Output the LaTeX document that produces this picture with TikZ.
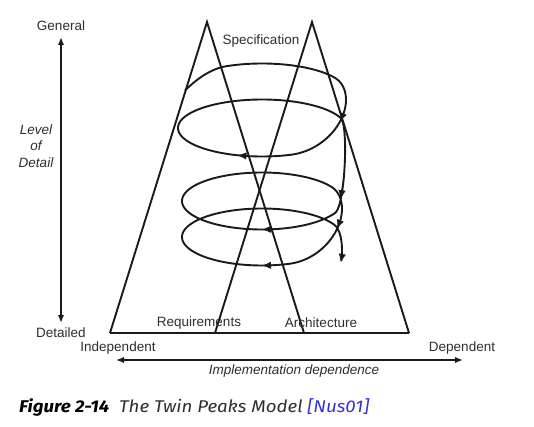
\documentclass[tikz,border=0pt]{standalone}
\usepackage{fontspec}
\setmainfont{Liberation Sans}
\newfontfamily\capfont{Fira Sans}
\usetikzlibrary{arrows.meta}
\definecolor{ink}{HTML}{1A1A1A}
\definecolor{txt}{HTML}{2E2E2E}
\definecolor{linkblue}{HTML}{3030E0}
\begin{document}
\begin{tikzpicture}[x=1pt,y=-1pt,
  declare function={
    sc(\v)=3*\v*\v-2*\v*\v*\v;
    st(\u)=sc(min(max(\u,0),1));
    cy(\t)=92+10*(1-st((\t-200)/45))+36*st((\t-330)/100)+73*st((\t-700)/45)+36*st((\t-1050)/100)+30*st((\t-1415)/55);
    hx(\t)=262+(84-4*st((\t-700)/60))*cos(\t);
    hy(\t)=cy(\t)+28.5*sin(\t);
  },
  peak/.style={draw=ink,line width=1.9pt,line join=miter},
  spiral/.style={draw=ink,line width=1.9pt},
  axis/.style={draw=ink,line width=1.9pt,{Latex[length=8pt,width=6.5pt]}-{Latex[length=8pt,width=6.5pt]}},
  tip/.style={draw=ink,line width=1.2pt,-{Latex[length=9pt,width=7.5pt]}},
  lab/.style={text=txt,font=\fontsize{13.5}{15}\selectfont,inner sep=0pt},
  ilab/.style={text=txt,font=\fontsize{13.5}{15}\selectfont\itshape,inner sep=0pt,align=center}]
\useasboundingbox (0,0) rectangle (534,427);
\fill[white] (0,0) rectangle (534,427);
% peaks
\coordinate (ra) at (207,22);
\coordinate (rl) at (110,333);
\coordinate (rr) at (304,333);
\coordinate (aa) at (312,22);
\coordinate (al) at (215,333);
\coordinate (ar) at (409,333);
\draw[peak] (rl) -- (ra) -- (rr);
\draw[peak] (al) -- (aa) -- (ar);
\draw[peak] (rl) -- (ar);
% spiral
\draw[spiral,-{Latex[length=9pt,width=7.5pt]}] plot[domain=203.5:1450,samples=500,smooth] ({hx(\x)},{hy(\x)});
\foreach \i/\a/\b in {1/372/382, 2/459/467, 3/727/735, 4/802/810, 5/1092/1100, 6/1162/1170} {
  \coordinate (m\i a) at ({hx(\a)},{hy(\a)});
  \coordinate (m\i b) at ({hx(\b)},{hy(\b)});
  \draw[tip] (m\i a) -- (m\i b);
}
% labels
\node[lab] (spec) at (261,41) {Specification};
\node[lab] (req) at (199,323) {Requirements};
\node[lab] (arch) at (321,323) {Architecture};
\node[lab] (gen) at (61,26) {General};
\node[lab] (det) at (61,333) {Detailed};
\node[ilab] (lod) at (36,146) {Level\\[1.5pt]of\\[1.5pt]Detail};
\node[lab] (ind) at (118,348) {Independent};
\node[lab] (dep) at (462,348) {Dependent};
\node[ilab] (impl) at (294,371) {Implementation dependence};
\coordinate (vt) at (61,37);
\coordinate (vb) at (61,323);
\coordinate (hl) at (116,360);
\coordinate (hr) at (463,360);
\draw[axis] (vt) -- (vb);
\draw[axis] (hl) -- (hr);
% caption
\node[anchor=west,inner sep=0pt,xscale=1.1,text=txt,font=\capfont\fontsize{17}{19}\selectfont\itshape] (cap) at (19,407)
  {\textbf{\color{black}Figure 2-14}\hspace{9pt}The Twin Peaks Model \textcolor{linkblue}{[Nus01]}};
\end{tikzpicture}
\end{document}
